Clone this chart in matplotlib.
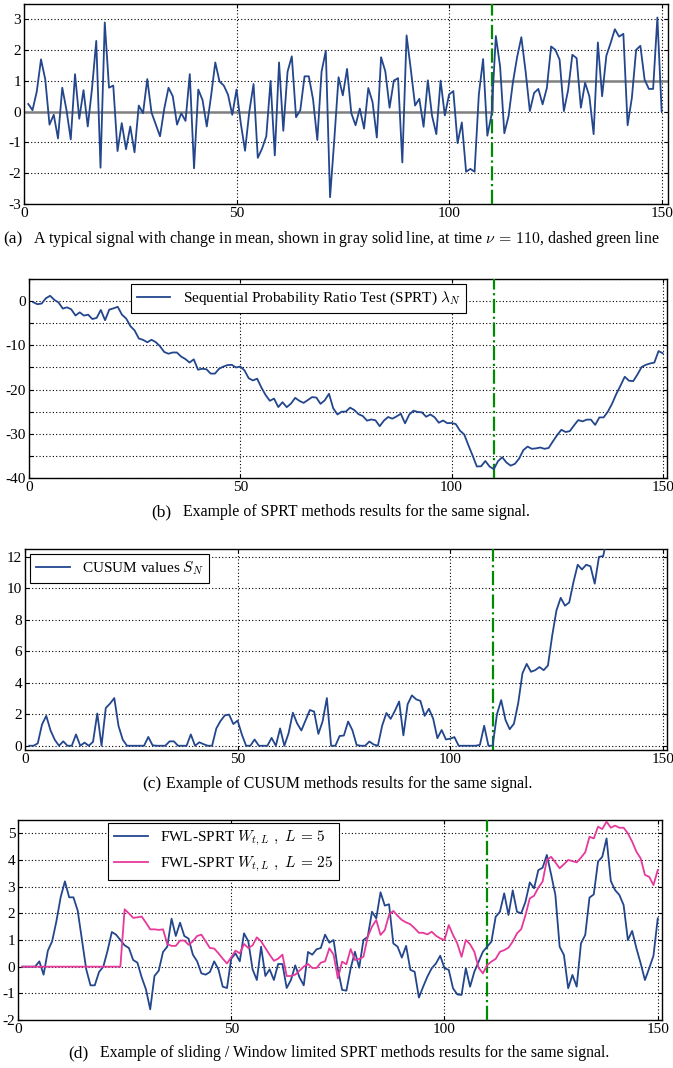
import numpy as np
import matplotlib
matplotlib.use("Agg")
import matplotlib.pyplot as plt

plt.rcParams["font.family"] = ["Liberation Serif", "DejaVu Serif"]
plt.rcParams["mathtext.fontset"] = "cm"
plt.rcParams["axes.unicode_minus"] = False

# time index of the samples
t = np.arange(1, 151)

# (a) observed signal
signal = [
    0.25, 0.05, 0.65, 1.70, 1.05, -0.42, -0.10, -0.87, 0.78, 0.05,
    -0.90, 1.22, -0.23, 0.70, -0.48, 0.75, 2.30, -1.82, 2.90, 0.78,
    0.85, -1.28, -0.37, -1.22, -0.48, -1.32, 0.20, -0.05, 1.06, -0.03,
    -0.42, -0.80, 0.10, 0.78, 0.50, -0.42, -0.05, -0.30, 1.22, -1.84,
    0.72, 0.38, -0.48, 0.50, 1.60, 0.98, 0.85, 0.55, -0.10, 0.72,
    -0.38, -1.27, 0.00, 0.90, -1.50, -1.20, -0.80, 1.00, -1.42, 1.60,
    -0.62, 1.30, 1.80, -0.18, 0.05, 1.15, 1.15, 0.40, -0.92, 1.30,
    1.98, -2.78, -0.90, 1.12, 0.53, 1.39, -0.05, -0.44, 0.10, -0.55,
    0.77, 0.31, -0.84, 1.77, 1.31, 0.13, 1.01, 1.09, -1.65, 2.48,
    1.37, 0.20, 0.42, -0.49, 1.02, -0.14, -0.73, 1.01, -0.12, 0.56,
    0.67, -1.02, -0.35, -1.95, -1.86, -1.95, 0.56, 1.71, -0.78, -0.09,
    2.46, 1.47, -0.70, -0.14, 0.94, 1.77, 2.42, 1.31, 0.02, 0.61,
    0.74, 0.24, 0.77, 2.12, 2.01, 1.69, 0.02, 0.70, 1.85, 1.74,
    0.13, 0.94, 0.50, -0.73, 2.25, 0.50, 1.82, 2.23, 2.68, 2.44,
    2.53, -0.44, 0.45, 2.01, 2.14, 1.04, 0.74, 0.74, 3.06, 0.02,
]
change_time = 110
mean_before = 0.0
mean_after = 1.0

# (b) SPRT statistic
sprt = [
    -0.25, -0.70, -0.55, 0.65, 1.20, 0.28, -0.32, -1.69, -1.41, -1.86,
    -3.26, -2.54, -3.27, -3.07, -4.05, -3.80, -2.00, -4.32, -1.92, -1.64,
    -1.29, -3.07, -3.94, -5.66, -6.64, -8.46, -8.76, -9.31, -8.75, -9.28,
    -10.20, -11.50, -11.90, -11.62, -11.62, -12.54, -13.09, -13.89, -13.17, -15.51,
    -15.29, -15.41, -16.39, -16.39, -15.29, -14.81, -14.46, -14.41, -15.01, -14.79,
    -15.67, -17.44, -17.94, -17.54, -19.54, -21.24, -22.54, -22.04, -23.96, -22.86,
    -23.98, -23.18, -21.88, -22.56, -23.01, -22.36, -21.71, -21.81, -23.23, -22.43,
    -20.95, -24.23, -25.63, -25.01, -24.98, -24.09, -24.64, -25.58, -25.98, -27.03,
    -26.76, -26.95, -28.29, -27.02, -26.21, -26.58, -26.07, -25.48, -27.63, -25.65,
    -24.78, -25.08, -25.16, -26.15, -25.63, -26.27, -27.50, -26.99, -27.61, -27.55,
    -27.80, -29.30, -30.15, -32.60, -34.95, -37.40, -37.35, -36.15, -37.40, -38.00,
    -36.20, -35.30, -36.50, -37.20, -36.80, -35.60, -33.70, -32.90, -33.40, -33.30,
    -33.10, -33.40, -33.20, -31.70, -30.30, -29.10, -29.60, -29.40, -28.10, -26.90,
    -27.20, -26.80, -26.80, -28.00, -26.30, -26.30, -25.00, -23.20, -21.00, -19.10,
    -17.10, -18.00, -18.10, -16.60, -14.90, -14.40, -14.10, -13.90, -11.30, -11.80,
]

# (c) CUSUM statistic
cusum = [
    0.00, 0.00, 0.15, 1.35, 1.90, 0.98, 0.38, 0.00, 0.28, 0.00,
    0.00, 0.72, 0.00, 0.20, 0.00, 0.25, 2.05, 0.00, 2.40, 2.68,
    3.03, 1.25, 0.38, 0.00, 0.00, 0.00, 0.00, 0.00, 0.56, 0.03,
    0.00, 0.00, 0.00, 0.28, 0.28, 0.00, 0.00, 0.00, 0.72, 0.00,
    0.22, 0.10, 0.00, 0.00, 1.10, 1.58, 1.93, 1.98, 1.38, 1.60,
    0.72, 0.00, 0.00, 0.40, 0.00, 0.00, 0.00, 0.50, 0.00, 1.10,
    0.00, 0.80, 2.10, 1.42, 0.97, 1.62, 2.27, 2.17, 0.75, 1.55,
    3.03, 0.00, 0.00, 0.62, 0.65, 1.54, 0.99, 0.05, 0.00, 0.00,
    0.27, 0.08, 0.00, 1.27, 2.08, 1.71, 2.22, 2.81, 0.66, 2.64,
    3.20, 2.95, 2.85, 1.90, 2.35, 1.72, 0.48, 1.00, 0.40, 0.45,
    0.55, 0.00, 0.00, 0.00, 0.00, 0.00, 0.06, 1.27, 0.00, 0.00,
    2.00, 2.90, 1.65, 1.05, 1.40, 2.70, 4.60, 5.20, 4.70, 4.80,
    5.00, 4.80, 5.10, 7.00, 8.60, 9.40, 8.90, 9.10, 10.40, 11.50,
    11.20, 11.50, 11.40, 10.30, 12.00, 12.05, 13.40, 15.10, 17.30, 19.20,
    21.20, 20.30, 20.20, 21.70, 23.40, 23.90, 24.20, 24.40, 27.00, 26.50,
]

# (d) FWL-SPRT, window L = 5
fwl_5 = [
    0.00, 0.00, 0.00, 0.00, 0.20, -0.30, 0.60, 0.95, 1.70, 2.60,
    3.20, 2.60, 2.60, 2.10, 1.00, -0.10, -0.70, -0.70, -0.20, 0.00,
    0.60, 1.30, 1.20, 1.00, 0.80, 0.70, 0.25, 0.15, -0.40, -0.85,
    -1.60, -0.35, -0.15, 0.55, 0.75, 1.80, 1.15, 1.65, 1.15, 1.05,
    0.45, 0.20, -0.25, -0.30, -0.20, 0.20, -0.10, -0.75, -0.80, 0.30,
    0.50, 0.20, 1.25, 0.95, -0.10, -0.50, 0.75, -0.35, -0.10, -0.50,
    0.10, 0.10, -0.80, -0.50, 0.05, -0.40, -0.70, 0.55, 0.45, 0.65,
    0.70, 1.20, 0.90, 1.00, -0.10, -0.87, -0.90, -0.06, 0.56, -0.04,
    1.00, 1.12, 2.06, 1.81, 2.79, 2.29, 2.34, 0.87, 0.75, 0.34,
    0.78, -0.12, -0.19, -1.16, -0.75, -0.37, -0.06, 0.12, 0.41, -0.06,
    -0.12, -0.81, -1.04, -1.06, -0.06, -0.75, -0.19, 0.19, 0.56, 0.75,
    0.94, 1.87, 2.06, 2.75, 1.94, 2.86, 2.06, 2.00, 2.44, 3.16,
    2.94, 3.62, 3.71, 4.19, 3.46, 2.69, 0.75, 0.44, -0.81, -0.31,
    -0.75, 0.87, 1.19, 2.59, 2.71, 3.94, 4.12, 4.81, 3.21, 2.87,
    2.69, 2.31, 1.00, 1.34, 0.69, 0.12, -0.50, -0.06, 0.41, 1.81,
]

# (d) FWL-SPRT, window L = 25
fwl_25 = [
    0.00, 0.00, 0.00, 0.00, 0.00, 0.00, 0.00, 0.00, 0.00, 0.00,
    0.00, 0.00, 0.00, 0.00, 0.00, 0.00, 0.00, 0.00, 0.00, 0.00,
    0.00, 0.00, 0.00, 0.00, 2.15, 2.00, 1.83, 1.85, 1.88, 1.65,
    1.40, 1.40, 1.38, 1.40, 0.85, 0.78, 0.78, 0.98, 0.98, 0.82,
    0.95, 1.15, 1.20, 0.95, 0.70, 0.68, 0.50, 0.30, 0.12, 0.35,
    0.60, 0.50, 0.85, 0.70, 0.80, 1.10, 0.95, 0.70, 0.45, 0.22,
    0.30, 0.45, -0.35, -0.35, -0.30, -0.15, 0.00, 0.10, -0.05, -0.05,
    0.15, 0.20, 0.69, 0.45, -0.44, 0.19, 0.09, 0.66, 0.25, 0.29,
    0.37, 1.12, 1.50, 1.75, 1.19, 1.37, 1.94, 2.09, 1.91, 1.75,
    1.66, 1.59, 1.44, 1.27, 1.27, 1.21, 1.31, 1.16, 1.06, 1.00,
    1.56, 1.19, 0.87, 0.37, 1.00, 0.84, 0.56, -0.04, -0.25, 0.06,
    0.19, 0.29, 0.56, 0.62, 0.71, 0.94, 1.25, 1.41, 1.94, 2.56,
    2.66, 2.96, 3.19, 4.00, 4.12, 3.91, 3.69, 3.84, 4.00, 3.96,
    3.91, 4.09, 4.29, 4.87, 4.81, 5.25, 5.16, 5.44, 5.21, 5.29,
    5.21, 5.21, 5.00, 4.69, 4.31, 4.06, 3.44, 3.37, 3.06, 3.62,
]

BLUE = "#23468c"
PINK = "#e6399b"
GREEN = "#008c00"
W, H = 673, 1068


def make_axes(fig, left, right, top, bottom):
    return fig.add_axes([left / W, 1 - bottom / H, (right - left) / W, (bottom - top) / H])


def style(ax, ylim, yticks, ylabels, xmax=151):
    ax.set_xlim(0, xmax)
    ax.set_ylim(*ylim)
    ax.set_xticks([0, 50, 100, 150])
    ax.set_yticks(yticks)
    ax.set_yticklabels(ylabels)
    ax.tick_params(direction="in", top=True, right=True, length=3,
                   labelsize=11, pad=2)
    ax.grid(True, color="k", linestyle=(0, (1, 2)), linewidth=0.8)
    for s in ax.spines.values():
        s.set_linewidth(1.0)
    ax.axvline(change_time, color=GREEN, linestyle="-.", linewidth=1.6, zorder=3)


def legend(ax, x, y, **kw):
    leg = ax.legend(loc="upper left", bbox_to_anchor=(x, y), borderaxespad=0,
                    fontsize=11, fancybox=False, framealpha=1, edgecolor="k",
                    handlelength=2.2, borderpad=0.38, **kw)
    leg.get_frame().set_linewidth(0.8)


def caption(fig, x_label, x_text, y, label, text):
    fig.text(x_label / W, 1 - y / H, label, fontsize=12.5, va="center")
    fig.text(x_text / W, 1 - y / H, text, fontsize=11.4, va="center")


fig = plt.figure(figsize=(W / 100, H / 100), dpi=100)

# (a) signal with change in mean
ax = make_axes(fig, 24, 668, 4, 204)
ax.plot([0, change_time, change_time, 151.5],
        [mean_before, mean_before, mean_after, mean_after],
        color="#808080", linewidth=1.8, zorder=2)
ax.plot(t, signal, color=BLUE, linewidth=1.3, zorder=4)
style(ax, (-3, 3.5), np.arange(-3, 4), [str(v) for v in range(-3, 4)], xmax=151.5)
caption(fig, 3, 33, 239, "(a)",
        r"A typical signal with change in mean, shown in gray solid line, at time $\nu\,=\,110$, dashed green line")

# (b) SPRT
ax = make_axes(fig, 29, 667, 279, 478)
ax.plot(t, sprt, color=BLUE, linewidth=1.3, zorder=4,
        label=r"Sequential Probability Ratio Test (SPRT) $\lambda_N$")
yt = np.arange(-40, 6, 5)
style(ax, (-40, 5), yt, [str(v) if v % 10 == 0 else "" for v in yt])
legend(ax, 0.16, 0.975)
caption(fig, 151, 183, 512, "(b)", "Example of SPRT methods results for the same signal.")

# (c) CUSUM
ax = make_axes(fig, 25, 667, 549, 750)
ax.plot(t, cusum, color=BLUE, linewidth=1.3, zorder=4, label=r"CUSUM values $S_N$")
style(ax, (-0.27, 12.5), np.arange(0, 13, 2), [str(v) for v in range(0, 13, 2)])
legend(ax, 0.008, 0.975)
caption(fig, 142, 166, 784, "(c)", "Example of CUSUM methods results for the same signal.")

# (d) FWL-SPRT
ax = make_axes(fig, 18, 662, 820, 1020)
ax.plot(t, fwl_5, color=BLUE, linewidth=1.3, zorder=4,
        label=r"FWL-SPRT $W_{t,L}\ ,\ L\,=\,5$")
ax.plot(t, fwl_25, color=PINK, linewidth=1.3, zorder=4,
        label=r"FWL-SPRT $W_{t,L}\ ,\ L\,=\,25$")
style(ax, (-2, 5.5), np.arange(-2, 6), [str(v) for v in range(-2, 6)])
legend(ax, 0.14, 0.985, labelspacing=0.45)
caption(fig, 68, 100, 1053, "(d)",
        "Example of sliding / Window limited SPRT methods results for the same signal.")

fig.savefig("out.png", dpi=100)
